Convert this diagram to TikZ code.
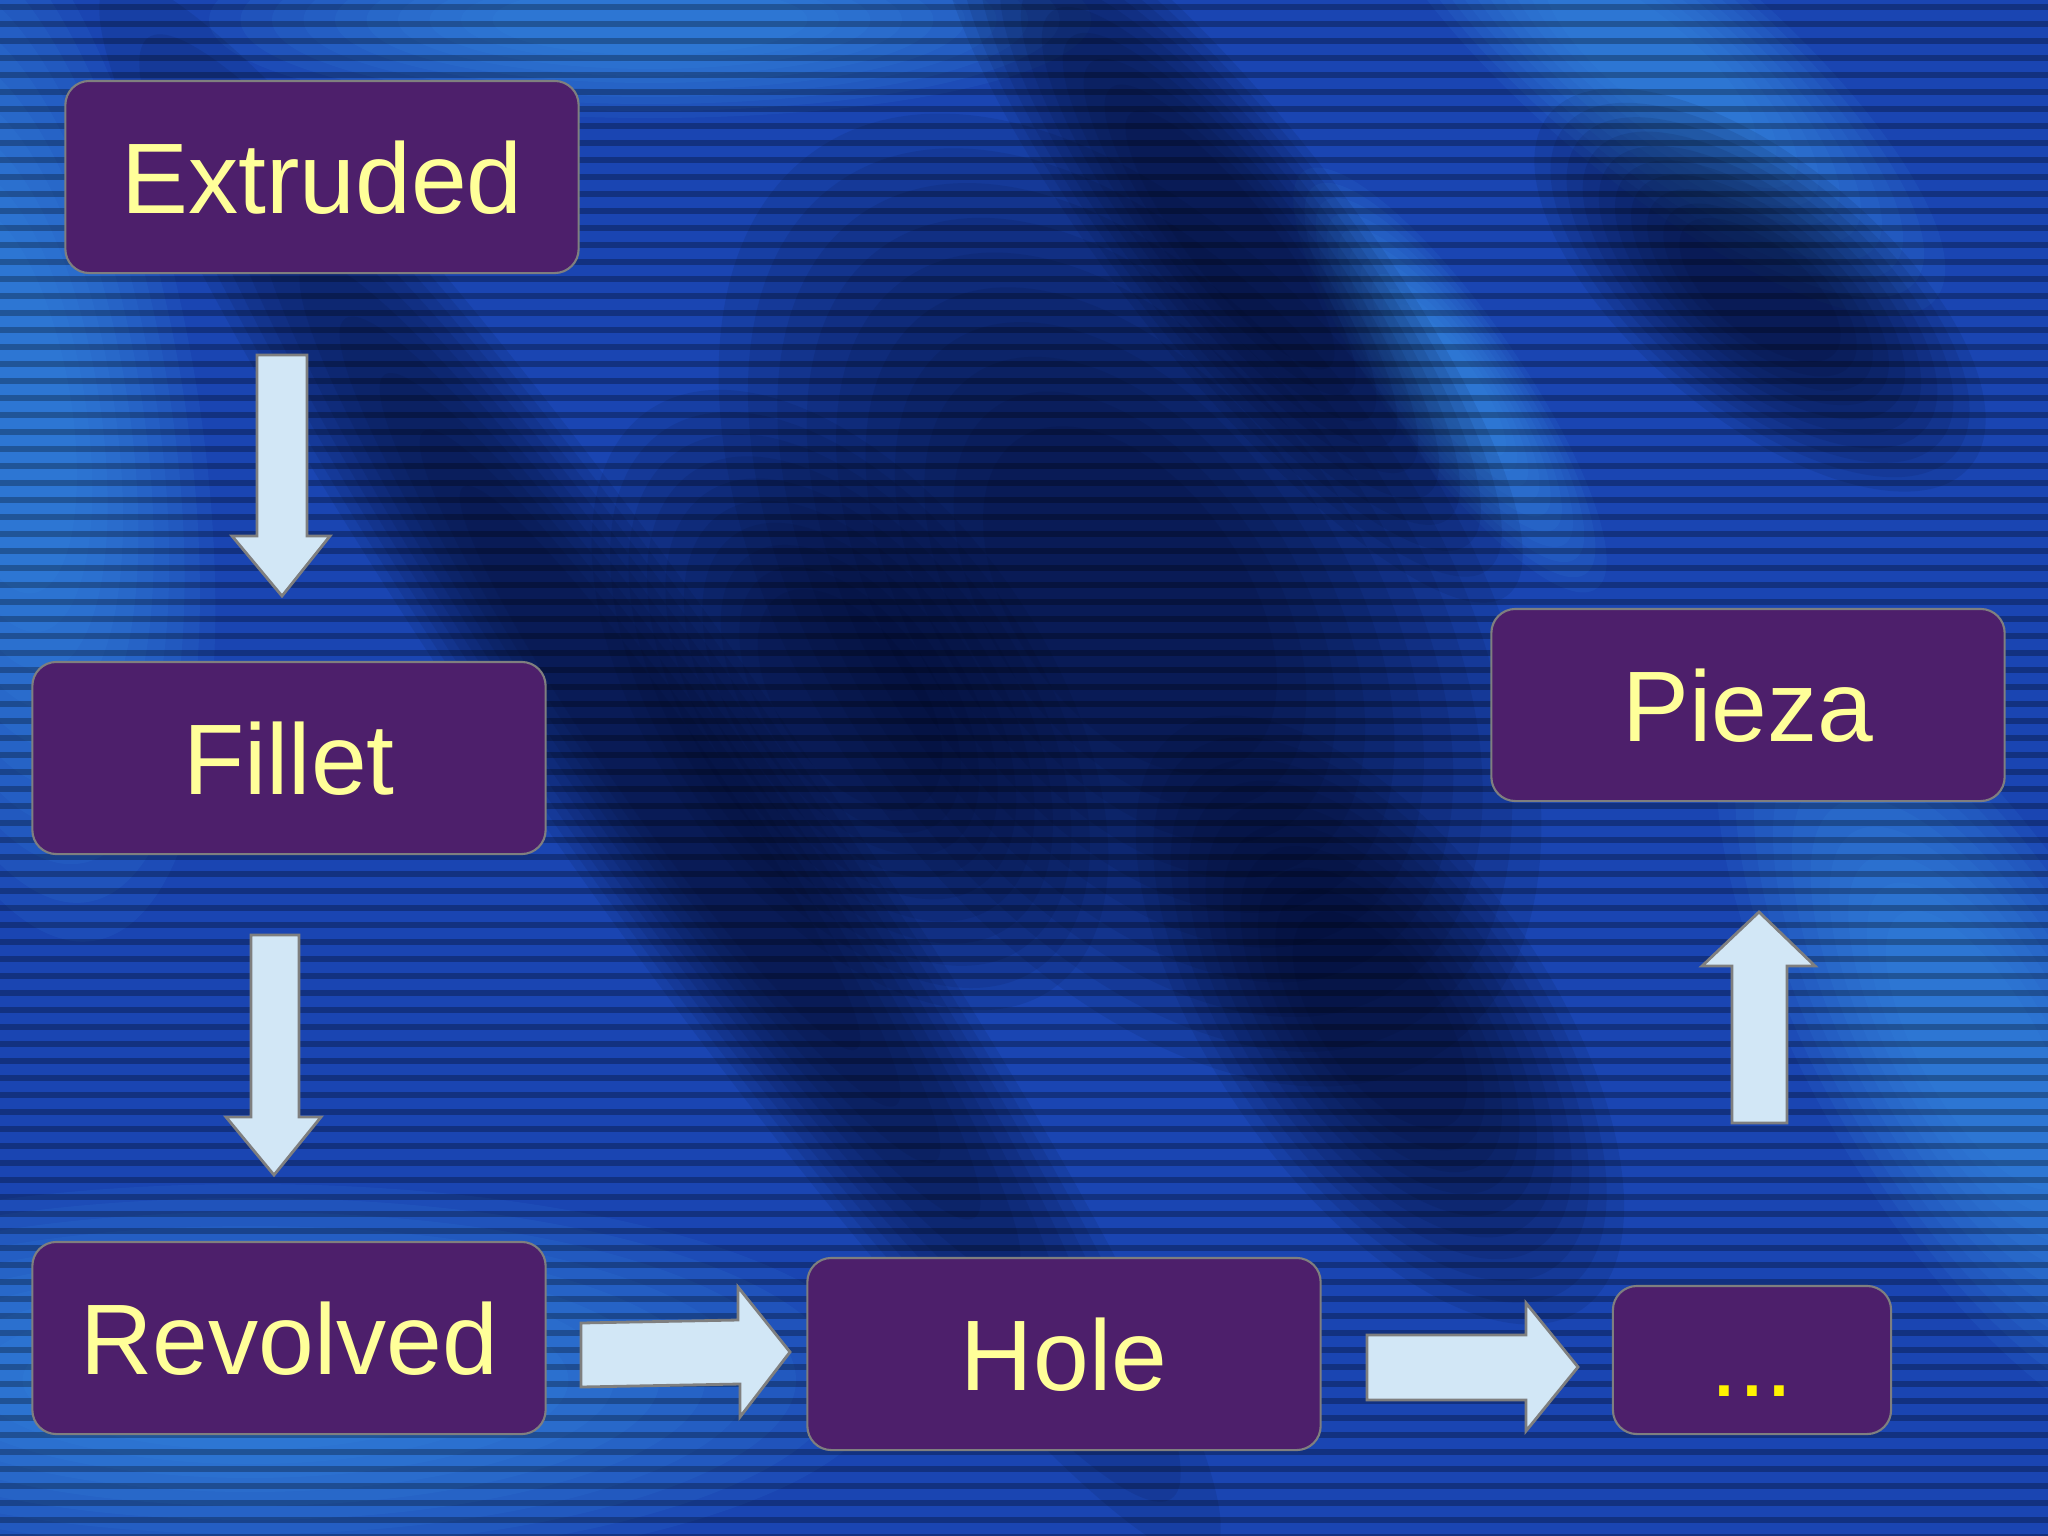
\documentclass[tikz,border=0pt]{standalone}
\usepackage{fontspec}
\setmainfont{Liberation Sans}
\usetikzlibrary{calc}
\definecolor{bgblue}{HTML}{1A45B2}
\definecolor{bglight}{HTML}{3F9BEE}
\definecolor{bgdark}{HTML}{020620}
\definecolor{boxfill}{HTML}{4D1F6B}
\definecolor{boxtext}{HTML}{FFFF99}
\definecolor{arrowfill}{HTML}{D2E7F6}
\definecolor{edgegray}{HTML}{7F7F7F}
\def\haze(#1,#2)(#3:#4:#5)#6{\foreach \k in {1,...,10} \fill[#6, opacity=0.09, rotate around={#3:(#1,#2)}] (#1,#2) ellipse [x radius={#4*(1.05-0.07*\k)}, y radius={#5*(1.05-0.07*\k)}];}

\begin{document}
\begin{tikzpicture}[x=0.01cm, y=-0.01cm,
		stepbox/.style={draw=edgegray, line width=0.6pt, fill=boxfill, rounded corners=0.24cm, minimum width=5.13cm, minimum height=1.92cm, text=boxtext, font=\fontsize{28.5}{34}\selectfont, text height=20.5pt, text depth=0pt, inner sep=0pt},
		blockarrow/.style={draw=edgegray, line width=0.8pt, fill=arrowfill, line join=miter}]
	\useasboundingbox (0,0) rectangle (2048,1536);
	
	% background
	\begin{scope}
		\clip (0,0) rectangle (2048,1536);
		\fill[bgblue] (0,0) rectangle (2048,1536);
		\haze(0,400)(-80:560:200){bglight}
		\haze(250,1380)(0:650:200){bglight}
		\haze(650,20)(0:450:100){bglight}
		\haze(1980,1050)(-60:450:170){bglight}
		\haze(1650,60)(-40:380:120){bglight}
		\haze(1450,380)(-55:260:70){bglight}
		\haze(660,768)(-55:980:130){bgdark}
		\haze(1230,240)(-52:460:120){bgdark}
		\haze(1130,600)(-55:560:330){bgdark}
		\haze(850,700)(-55:360:200){bgdark}
		\haze(1380,1020)(-55:360:170){bgdark}
		\haze(1760,290)(-40:280:130){bgdark}
		\foreach \y in {4,21,...,1536}
			\fill[black, opacity=0.28] (0,\y) rectangle (2048,\y+6);
	\end{scope}
	
	% steps
	\node[stepbox] (extruded) at (322,177) {Extruded};
	\node[stepbox] (fillet) at (289,758) {Fillet};
	\node[stepbox] (revolved) at (289,1338) {Revolved};
	\node[stepbox] (hole) at (1064,1354) {Hole};
	\node[stepbox, minimum width=2.78cm, minimum height=1.48cm, text=yellow] (etc) at (1752,1360) {...};
	\node[stepbox] (pieza) at (1748,705) {Pieza};
	
	% arrows
	\draw[blockarrow] (257,355) -- (307,355) -- (307,536) -- (330,536) -- (282,596) -- (232,536) -- (257,536) -- cycle;
	\draw[blockarrow] (251,935) -- (299,935) -- (299,1117) -- (321,1117) -- (274,1175) -- (226,1117) -- (251,1117) -- cycle;
	\draw[blockarrow] (581,1323) -- (738,1320) -- (738,1287) -- (790,1352) -- (740,1417) -- (740,1384) -- (581,1387) -- cycle;
	\draw[blockarrow] (1367,1335) -- (1526,1335) -- (1526,1303) -- (1578,1367) -- (1526,1431) -- (1526,1400) -- (1367,1400) -- cycle;
	\draw[blockarrow] (1732,1123) -- (1732,966) -- (1702,966) -- (1759,912) -- (1815,966) -- (1787,966) -- (1787,1123) -- cycle;
\end{tikzpicture}
\end{document}
